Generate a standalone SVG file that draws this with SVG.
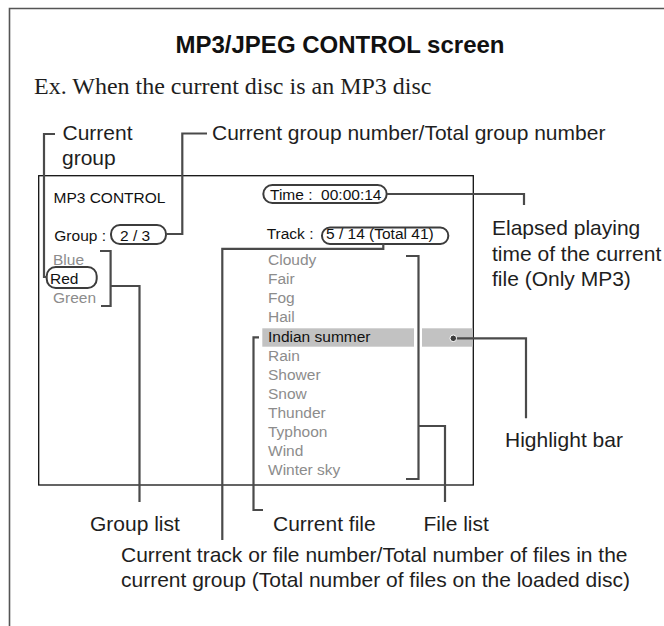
<svg xmlns="http://www.w3.org/2000/svg" width="664" height="626" viewBox="0 0 664 626">
<style>
.ann{font-family:"Liberation Sans",Arial,Helvetica,sans-serif;font-size:21px;fill:#1e1e1e}
.scr{font-family:"Liberation Sans",Arial,Helvetica,sans-serif;font-size:15.5px;fill:#111}
.dim{fill:#8c8c8c}
.oval{fill:none;stroke:#3c3c3c;stroke-width:2}
.con{fill:none;stroke:#4a4a4a;stroke-width:2.2}
.hl{fill:#c2c2c2}
</style>
<g id="frame"><path d="M9.5,626 V8.5 H664" fill="none" stroke="#555" stroke-width="1.6"/></g>
<g id="title"><text x="340" y="53" text-anchor="middle" font-family="'Liberation Sans',Arial,sans-serif" font-weight="bold" font-size="24" fill="#111">MP3/JPEG CONTROL screen</text></g>
<g id="subtitle"><text x="34" y="94" font-family="'Liberation Serif','Times New Roman',serif" font-size="24" fill="#1e1e1e">Ex. When the current disc is an MP3 disc</text></g>
<g id="screen">
<rect x="38.7" y="175.7" width="434.6" height="309.3" fill="none" stroke="#111" stroke-width="1.3"/>
<rect class="hl" x="262.3" y="328.3" width="151.7" height="18.4"/>
<rect class="hl" x="422" y="328.3" width="50.6" height="18.4"/>
<text class="scr" x="53.5" y="203">MP3 CONTROL</text>
<text class="scr" x="54.3" y="241">Group :</text>
<text class="scr" x="120" y="241">2 / 3</text>
<text class="scr" x="270" y="200" xml:space="preserve" style="white-space:pre">Time :  00:00:14</text>
<text class="scr" x="266.7" y="239">Track :</text>
<text class="scr" x="326" y="239">5 / 14 (Total 41)</text>
<text class="scr dim" x="53" y="265">Blue</text>
<text class="scr" x="50" y="284">Red</text>
<text class="scr dim" x="53" y="303">Green</text>
<g class="scr dim">
<text x="268" y="265">Cloudy</text>
<text x="268" y="284">Fair</text>
<text x="268" y="303">Fog</text>
<text x="268" y="322">Hail</text>
<text x="268" y="360.5">Rain</text>
<text x="268" y="379.5">Shower</text>
<text x="268" y="398.6">Snow</text>
<text x="268" y="417.7">Thunder</text>
<text x="268" y="436.8">Typhoon</text>
<text x="268" y="455.9">Wind</text>
<text x="268" y="475">Winter sky</text>
</g>
<text class="scr" x="268" y="341.5">Indian summer</text>
<rect class="oval" x="263.3" y="185" width="123.4" height="18" rx="9"/>
<rect class="oval" x="111" y="225" width="55" height="19" rx="9"/>
<rect class="oval" x="322" y="227.5" width="126.3" height="16.5" rx="8"/>
<rect class="oval" x="46.7" y="267" width="50" height="21" rx="9"/>
</g>
<g id="connectors">
<path class="con" d="M55,134 H44 V277 H47"/>
<path class="con" d="M207,133.5 H182.3 V234 H166"/>
<path class="con" d="M100,251 H110.6 V306 H101 M110.6,286 H139.5 V502"/>
<path class="con" d="M383.3,243.5 V248.8 H222.3 V540"/>
<path class="con" d="M259,337.3 H253.5 V510 H263"/>
<path class="con" d="M406,256 H418.5 V479 H406 M418.5,426 H445 V502"/>
<path class="con" d="M386.7,194 H524 V205"/>
<path class="con" d="M453.3,338.3 H526 V418.3"/>
<circle cx="453.3" cy="338.3" r="3.3" fill="#3c3c3c" stroke="#fff" stroke-width="1"/>
</g>
<g id="annotations">
<text class="ann" x="62.5" y="140">Current</text>
<text class="ann" x="62" y="165">group</text>
<text class="ann" x="212" y="140">Current group number/Total group number</text>
<text class="ann" x="492" y="235">Elapsed playing</text>
<text class="ann" x="492" y="260.5">time of the current</text>
<text class="ann" x="492" y="286">file (Only MP3)</text>
<text class="ann" x="505" y="447">Highlight bar</text>
<text class="ann" x="90" y="531">Group list</text>
<text class="ann" x="273" y="531">Current file</text>
<text class="ann" x="423.5" y="531">File list</text>
<text class="ann" x="121" y="562">Current track or file number/Total number of files in the</text>
<text class="ann" x="121" y="587">current group (Total number of files on the loaded disc)</text>
</g>
</svg>
